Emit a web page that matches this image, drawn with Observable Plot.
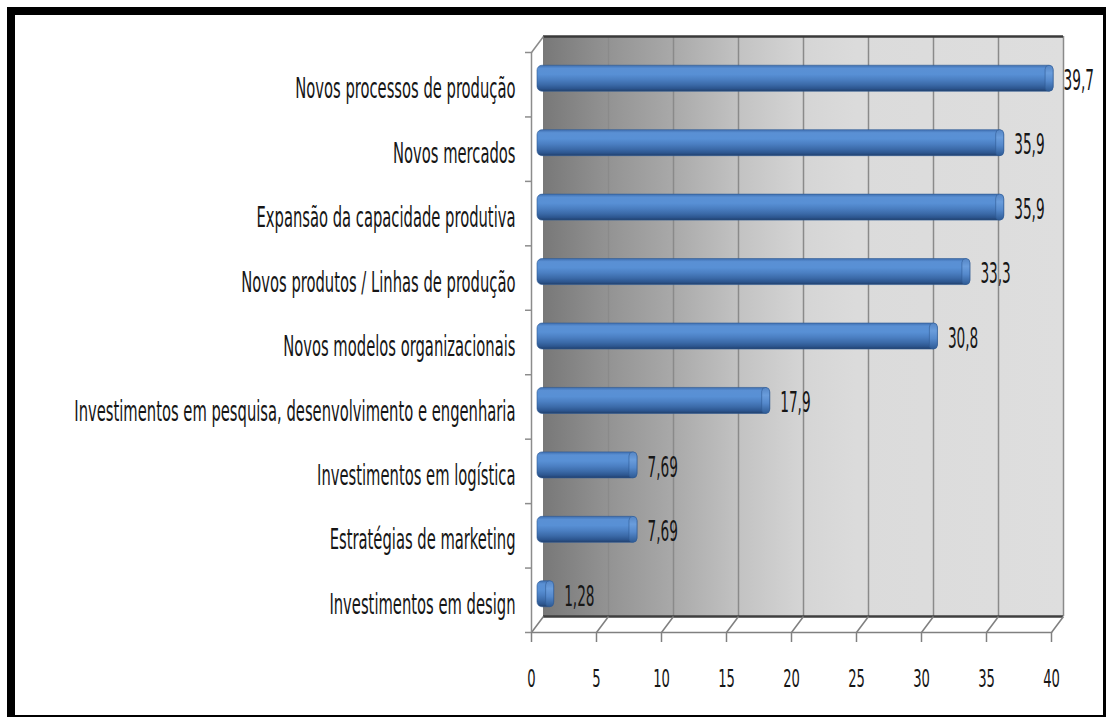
<!DOCTYPE html>
<html>
<head>
<meta charset="utf-8">
<script src="https://cdn.jsdelivr.net/npm/d3@7"></script>
<script src="https://cdn.jsdelivr.net/npm/@observablehq/plot@0.6"></script>
<style>
  html, body { margin: 0; padding: 0; background: #fff; }
  #wrap { position: relative; width: 1106px; height: 718px; overflow: hidden; }
  #frame { position: absolute; left: 7px; top: 7px; right: 0px; bottom: 1px;
           border-left: 8px solid #000; border-top: 8px solid #000;
           border-right: 3px solid #000; border-bottom: 2px solid #000; pointer-events: none; }
  svg { display: block; }
</style>
</head>
<body>
<div id="wrap"><div id="chart"></div><div id="frame"></div></div>
<script>
// ---- data (top to bottom) ----
const categories = [
  "Novos processos de produção",
  "Novos mercados",
  "Expansão da capacidade produtiva",
  "Novos produtos / Linhas de produção",
  "Novos modelos organizacionais",
  "Investimentos em pesquisa, desenvolvimento e engenharia",
  "Investimentos em logística",
  "Estratégias de marketing",
  "Investimentos em design"
];
const values = [39.7, 35.9, 35.9, 33.3, 30.8, 17.9, 7.69, 7.69, 1.28];
const xTicks = [0, 5, 10, 15, 20, 25, 30, 35, 40];

// ---- layout ----
const W = 1106, H = 718;
const mL = 543, mR = 43, mT = 36, mB = 102;
const n = categories.length;
const xMax = xTicks[xTicks.length - 1];
const pxX = (W - mL - mR) / xMax;
const pxY = (H - mT - mB) / n;
const FX = -12, FY = 16;           // front-plane offset (px)
const fxU = FX / pxX, fyU = FY / pxY;
const barHalf = 13 / pxY;

const data = categories.map((c, i) => ({category: c, value: values[i], i}));
const fmt = v => String(v).replace(".", ",");
const FONT = '"Liberation Sans Narrow", "Arial Narrow", "DejaVu Sans Condensed", sans-serif';
const TXT = "#161616";

const chart = Plot.plot({
  width: W, height: H,
  marginLeft: mL, marginRight: mR, marginTop: mT, marginBottom: mB,
  x: {domain: [0, xMax], axis: null},
  y: {domain: [n, 0], axis: null},
  style: {fontFamily: FONT, background: "transparent"},
  marks: [
    // back wall
    Plot.rect([0], {x1: 0, x2: xMax, y1: 0, y2: n, fill: "url(#wallGrad)"}),
    Plot.ruleX(xTicks.slice(1), {y1: 0, y2: n, stroke: "#8a8a8a", strokeWidth: 1.5}),
    Plot.ruleY([0], {x1: 0, x2: xMax, stroke: "#3a3a3a", strokeWidth: 2.5}),
    Plot.ruleY([n], {x1: 0, x2: xMax, stroke: "#3f3f3f", strokeWidth: 2.5}),
    // floor
    Plot.ruleY([n], {x1: 0, x2: xMax, dx: FX, dy: FY, stroke: "#808080", strokeWidth: 1.5}),
    Plot.link(xTicks, {x1: d => d + fxU, y1: n + fyU, x2: d => d, y2: n, stroke: "#808080", strokeWidth: 1.5}),
    Plot.ruleX(xTicks, {y1: n, y2: n + 10 / pxY, dx: FX, dy: FY, stroke: "#808080", strokeWidth: 1.5}),
    // left side
    Plot.ruleX([0], {y1: 0, y2: n, dx: FX, dy: FY, stroke: "#8c8c8c", strokeWidth: 1.5}),
    Plot.ruleY(d3.range(n + 1), {x1: 0, x2: -6 / pxX, dx: FX, dy: FY, stroke: "#8c8c8c", strokeWidth: 1.5}),
    Plot.link([0], {x1: fxU, y1: fyU, x2: 0, y2: 0, stroke: "#8c8c8c", strokeWidth: 1.5}),
    // bars (cylinders)
    Plot.rect(data, {x1: 0, x2: "value", y1: d => d.i + 0.5 - barHalf, y2: d => d.i + 0.5 + barHalf,
      dx: -6, dy: 10, rx: 5, fill: "url(#barGrad)", stroke: "#2f5b94", strokeWidth: 0.6}),
    Plot.rect(data, {x1: "value", x2: "value", y1: d => d.i + 0.5 - barHalf, y2: d => d.i + 0.5 + barHalf,
      dx: -10, dy: 10, insetLeft: -4, insetRight: -4, rx: 4, fill: "url(#capGrad)", stroke: "#2f5b94", strokeWidth: 0.6}),
    // labels
    Plot.text(data, {x: "value", y: d => d.i + 0.5, dx: 4, dy: 12, text: d => fmt(d.value),
      textAnchor: "start", fontSize: 19, fill: TXT}),
    Plot.text(data, {x: 0, y: d => d.i + 0.5, dx: -28, dy: 20, text: "category",
      textAnchor: "end", fontSize: 20, fill: TXT}),
    Plot.text(xTicks, {x: d => d, y: n, dx: FX, dy: FY + 46, text: d => String(d),
      fontSize: 17, fill: TXT})
  ]
});

// gradients
const svg = d3.select(chart);
const defs = svg.insert("defs", ":first-child");
const wg = defs.append("linearGradient").attr("id", "wallGrad").attr("x1", 0).attr("x2", 1).attr("y1", 0).attr("y2", 0);
[[0, "#787878"], [0.12, "#929292"], [0.25, "#a9a9a9"], [0.38, "#c3c3c3"], [0.5, "#d5d5d5"], [0.6, "#dbdbdb"], [1, "#dedede"]]
  .forEach(([o, c]) => wg.append("stop").attr("offset", o).attr("stop-color", c));
const bg = defs.append("linearGradient").attr("id", "barGrad").attr("x1", 0).attr("x2", 0).attr("y1", 0).attr("y2", 1);
[[0, "#3f6fb0"], [0.12, "#5a90d4"], [0.35, "#5890d5"], [0.55, "#4b7fc2"], [0.75, "#3b6aa8"], [0.9, "#2c558e"], [1, "#213f6b"]]
  .forEach(([o, c]) => bg.append("stop").attr("offset", o).attr("stop-color", c));
const cg = defs.append("linearGradient").attr("id", "capGrad").attr("x1", 0).attr("x2", 0).attr("y1", 0).attr("y2", 1);
[[0, "#5585c4"], [0.3, "#6a9ddc"], [0.6, "#5589cc"], [1, "#2e5a94"]]
  .forEach(([o, c]) => cg.append("stop").attr("offset", o).attr("stop-color", c));

document.getElementById("chart").appendChild(chart);

// tall & narrow glyphs as in the reference: [scaleX, scaleY] per text group
const squash = [[0.8, 1.45], [0.82, 1.45], [0.86, 1.45]];
svg.selectAll('g[aria-label="text"]').each(function(_, gi) {
  const [sx, sy] = squash[gi] || [1, 1];
  d3.select(this).selectAll("text").each(function() {
    const b = this.getBBox();
    const cy = b.y + b.height / 2;
    const t = this.getAttribute("transform") || "";
    this.setAttribute("transform", `${t} translate(0,${cy}) scale(${sx},${sy}) translate(0,${-cy})`);
  });
});
</script>
</body>
</html>
